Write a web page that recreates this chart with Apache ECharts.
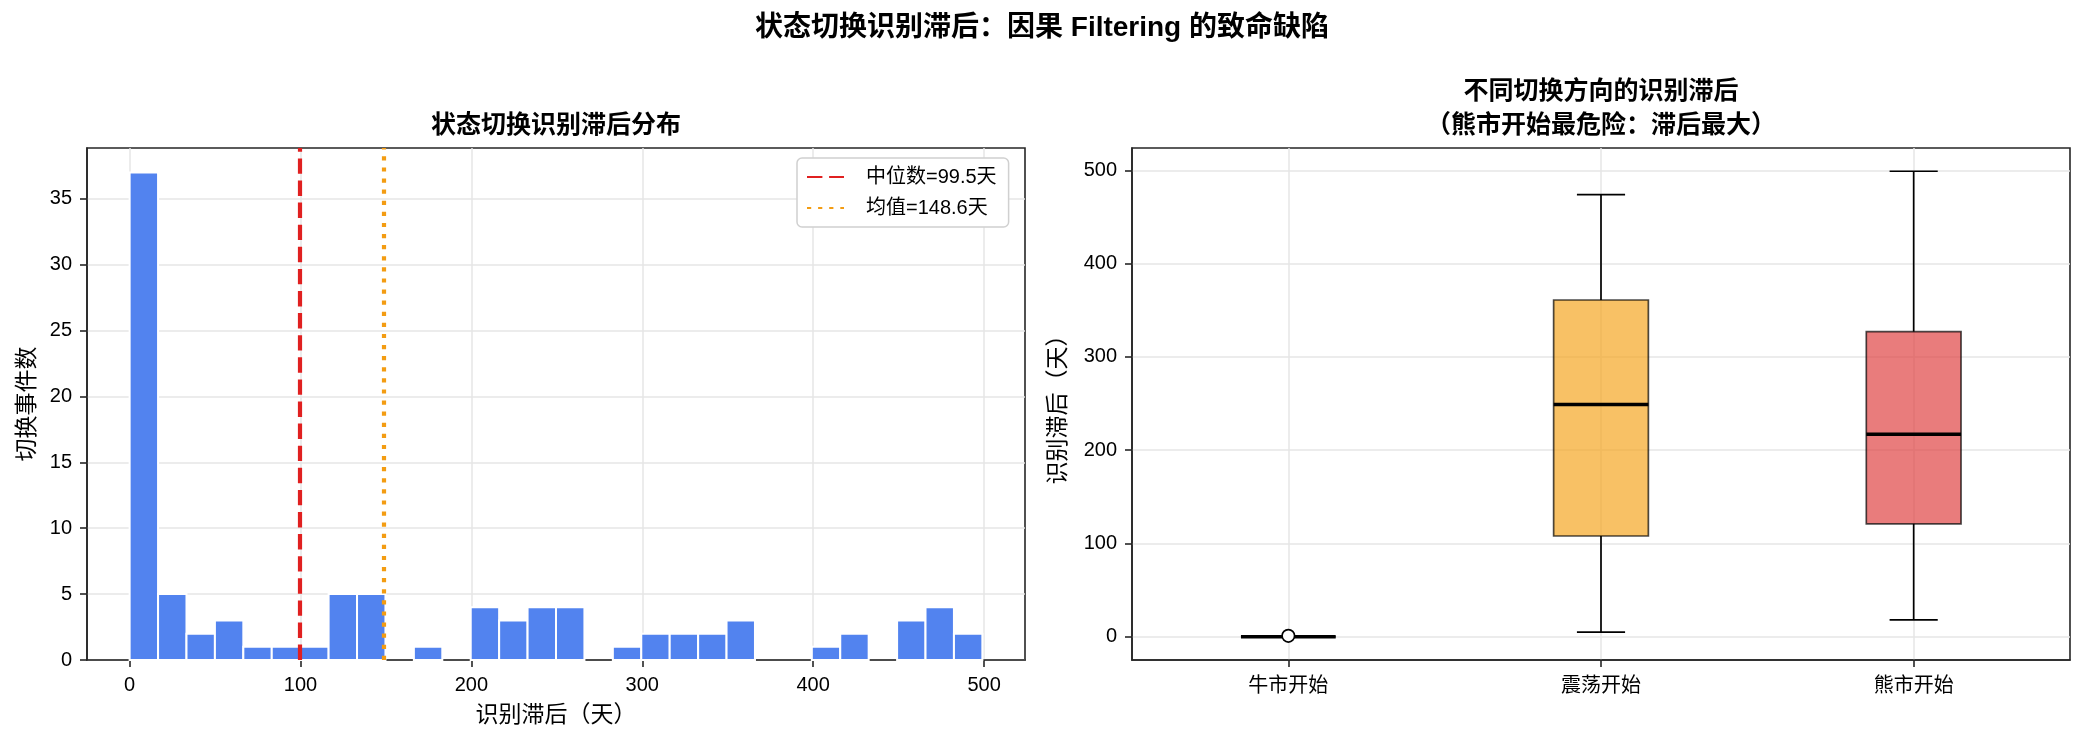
<!DOCTYPE html>
<html>
<head>
<meta charset="utf-8">
<script src="https://cdn.jsdelivr.net/npm/echarts@6/dist/echarts.min.js"></script>
<style>
html, body { margin: 0; padding: 0; background: #fff; }
#chart-container { width: 2085px; height: 742px; }
</style>
</head>
<body>
<div id="chart-container"></div>
<script>
// ---- histogram data: 30 bins between lagMin and lagMax (days)
const lagMin = 0;
const lagMax = 499;
const binCounts = [37, 5, 2, 3, 1, 1, 1, 5, 5, 0, 1, 0, 4, 3, 4, 4, 0, 1, 2, 2, 2, 3, 0, 0, 1, 2, 0, 3, 4, 2];
const lagMedian = 99.5;
const lagMean = 148.6;
const histXTicks = [0, 100, 200, 300, 400, 500];
const histYTicks = [0, 5, 10, 15, 20, 25, 30, 35];

// ---- box plot data per switch direction
const boxCategories = ['牛市开始', '震荡开始', '熊市开始'];
const boxLow = [0, 5, 18];
const boxQ1 = [0, 108, 121];
const boxMedian = [0, 249, 217];
const boxQ3 = [0, 361, 327];
const boxHigh = [0, 474, 499];
const boxOutliers = [[0, 1]];
const boxColors = ['#4CAF50', '#F5A623', '#DF4444'];
const boxYTicks = [0, 100, 200, 300, 400, 500];

const FONT = "'Liberation Sans', 'Noto Sans CJK SC', sans-serif";
const AX = '#262626';
const GRIDC = '#e6e6e6';

const myChart = echarts.init(document.getElementById('chart-container'));

// histogram bins -> [start, end, count]
const binW = (lagMax - lagMin) / binCounts.length;
const histData = binCounts.map((c, i) => [lagMin + i * binW, lagMin + (i + 1) * binW, c]);
const pad = (lagMax - lagMin) * 0.05;

const boxData = boxCategories.map((c, i) => [i, boxLow[i], boxQ1[i], boxMedian[i], boxQ3[i], boxHigh[i]]);

function renderBin(params, api) {
    if (!api.value(2)) return null;
    const p0 = api.coord([api.value(0), api.value(2)]);
    const p1 = api.coord([api.value(1), 0]);
    return {
        type: 'rect',
        shape: { x: p0[0], y: p0[1], width: p1[0] - p0[0], height: p1[1] - p0[1] },
        style: { fill: '#5283EF', stroke: '#ffffff', lineWidth: 2 }
    };
}

function renderBox(params, api) {
    const i = api.value(0);
    const xc = api.coord([i, 0])[0];
    const band = api.size([1, 0])[0];
    const bw = band * 0.303;
    const cw = band * 0.154;
    const y = k => api.coord([i, api.value(k)])[1];
    const yLow = y(1), yQ1 = y(2), yMed = y(3), yQ3 = y(4), yHigh = y(5);
    const black = { stroke: '#000', lineWidth: 1.7 };
    return {
        type: 'group',
        children: [
            { type: 'line', shape: { x1: xc, y1: yLow, x2: xc, y2: yQ1 }, style: black },
            { type: 'line', shape: { x1: xc, y1: yQ3, x2: xc, y2: yHigh }, style: black },
            { type: 'line', shape: { x1: xc - cw / 2, y1: yLow, x2: xc + cw / 2, y2: yLow }, style: black },
            { type: 'line', shape: { x1: xc - cw / 2, y1: yHigh, x2: xc + cw / 2, y2: yHigh }, style: black },
            {
                type: 'rect',
                shape: { x: xc - bw / 2, y: yQ3, width: bw, height: yQ1 - yQ3 },
                style: { fill: boxColors[i], stroke: '#000', lineWidth: 1.7, opacity: 0.7 }
            },
            { type: 'line', shape: { x1: xc - bw / 2, y1: yMed, x2: xc + bw / 2, y2: yMed }, style: { stroke: '#000', lineWidth: 3.4 } }
        ]
    };
}

const tickStyle = { show: true, length: 7, inside: false, lineStyle: { color: AX, width: 1.6 } };
const lineStyleAx = { show: true, onZero: false, lineStyle: { color: AX, width: 1.6 } };
const labelStyle = { color: '#000', fontSize: 20, fontFamily: FONT, margin: 15 };
const nameStyle = { color: '#000', fontSize: 23, fontFamily: FONT };

const option = {
    animation: false,
    backgroundColor: '#fff',
    title: [
        {
            text: '状态切换识别滞后：因果 Filtering 的致命缺陷',
            left: 1042, top: 11, textAlign: 'center', padding: 0,
            textStyle: { fontSize: 28, fontWeight: 'bold', color: '#000', fontFamily: FONT, lineHeight: 34 }
        },
        {
            text: '状态切换识别滞后分布',
            left: 556, top: 109, textAlign: 'center', padding: 0,
            textStyle: { fontSize: 25, fontWeight: 'bold', color: '#000', fontFamily: FONT, lineHeight: 34 }
        },
        {
            text: '不同切换方向的识别滞后\n（熊市开始最危险：滞后最大）',
            left: 1601, top: 75, textAlign: 'center', padding: 0,
            textStyle: { fontSize: 25, fontWeight: 'bold', color: '#000', fontFamily: FONT, lineHeight: 34 }
        }
    ],
    legend: {
        left: 797, top: 158,
        orient: 'vertical',
        padding: [9, 12, 9, 9],
        itemGap: 11,
        itemWidth: 37, itemHeight: 20,
        backgroundColor: '#fff',
        borderColor: '#d0d0d0', borderWidth: 1.5, borderRadius: 5,
        itemStyle: { opacity: 0 },
        data: ['中位数=' + lagMedian + '天', '均值=' + lagMean + '天'],
        formatter: n => '{t|' + n + '}',
        textStyle: {
            color: '#000', fontSize: 20, fontFamily: FONT,
            rich: { t: { fontSize: 20, fontFamily: FONT, color: '#000', padding: [0, 0, 0, 17] } }
        }
    },
    grid: [
        { left: 87, top: 148, width: 938, height: 512, show: true, borderColor: AX, borderWidth: 1.6, containLabel: false, outerBoundsMode: 'none' },
        { left: 1132, top: 148, width: 938, height: 512, show: true, borderColor: AX, borderWidth: 1.6, containLabel: false, outerBoundsMode: 'none' }
    ],
    xAxis: [
        {
            type: 'value', gridIndex: 0,
            min: lagMin - pad, max: lagMax + pad,
            name: '识别滞后（天）', nameLocation: 'middle', nameGap: 44, nameTextStyle: nameStyle,
            axisLine: lineStyleAx,
            axisTick: Object.assign({ customValues: histXTicks }, tickStyle),
            axisLabel: Object.assign({ customValues: histXTicks }, labelStyle),
            splitLine: { show: true, lineStyle: { color: GRIDC, width: 1.5 } }
        },
        {
            type: 'category', gridIndex: 1,
            data: boxCategories, boundaryGap: true,
            axisLine: lineStyleAx,
            axisTick: Object.assign({ alignWithLabel: true }, tickStyle),
            axisLabel: Object.assign({}, labelStyle, { margin: 16 }),
            splitLine: { show: true, alignWithLabel: true, lineStyle: { color: GRIDC, width: 1.5 } }
        }
    ],
    yAxis: [
        {
            type: 'value', gridIndex: 0,
            min: 0, max: Math.max(...binCounts) * 1.05,
            name: '切换事件数', nameLocation: 'middle', nameGap: 48, nameTextStyle: nameStyle,
            axisLine: lineStyleAx,
            axisTick: Object.assign({ customValues: histYTicks }, tickStyle),
            axisLabel: Object.assign({ customValues: histYTicks }, labelStyle),
            splitLine: { show: true, lineStyle: { color: GRIDC, width: 1.5 } }
        },
        {
            type: 'value', gridIndex: 1,
            min: lagMin - pad, max: lagMax + pad,
            name: '识别滞后（天）', nameLocation: 'middle', nameGap: 62, nameTextStyle: nameStyle,
            axisLine: lineStyleAx,
            axisTick: Object.assign({ customValues: boxYTicks }, tickStyle),
            axisLabel: Object.assign({ customValues: boxYTicks }, labelStyle),
            splitLine: { show: true, lineStyle: { color: GRIDC, width: 1.5 } }
        }
    ],
    series: [
        {
            type: 'custom', name: 'hist',
            xAxisIndex: 0, yAxisIndex: 0,
            renderItem: renderBin,
            encode: { x: [0, 1], y: 2 },
            data: histData,
            z: 2
        },
        {
            type: 'line', name: '中位数=' + lagMedian + '天',
            xAxisIndex: 0, yAxisIndex: 0,
            data: [], symbol: 'none',
            lineStyle: { color: '#E02020', width: 4.2, type: [15.4, 6.7] },
            itemStyle: { color: '#E02020' },
            markLine: {
                silent: true, symbol: ['none', 'none'], label: { show: false },
                lineStyle: { color: '#E02020', width: 4.2, type: [15.4, 6.7] },
                data: [{ xAxis: lagMedian }]
            },
            z: 4
        },
        {
            type: 'line', name: '均值=' + lagMean + '天',
            xAxisIndex: 0, yAxisIndex: 0,
            data: [], symbol: 'none',
            lineStyle: { color: '#F39C12', width: 4.2, type: [4.2, 6.9] },
            itemStyle: { color: '#F39C12' },
            markLine: {
                silent: true, symbol: ['none', 'none'], label: { show: false },
                lineStyle: { color: '#F39C12', width: 4.2, type: [4.2, 6.9] },
                data: [{ xAxis: lagMean }]
            },
            z: 4
        },
        {
            type: 'custom', name: 'box',
            xAxisIndex: 1, yAxisIndex: 1,
            renderItem: renderBox,
            encode: { x: 0, y: [1, 2, 3, 4, 5] },
            data: boxData,
            z: 2
        },
        {
            type: 'scatter', name: 'outliers',
            xAxisIndex: 1, yAxisIndex: 1,
            symbol: 'circle', symbolSize: 12.5,
            itemStyle: { color: '#fff', borderColor: '#000', borderWidth: 1.7, opacity: 1 },
            data: boxOutliers,
            z: 5
        }
    ]
};

option && myChart.setOption(option);
</script>
</body>
</html>
